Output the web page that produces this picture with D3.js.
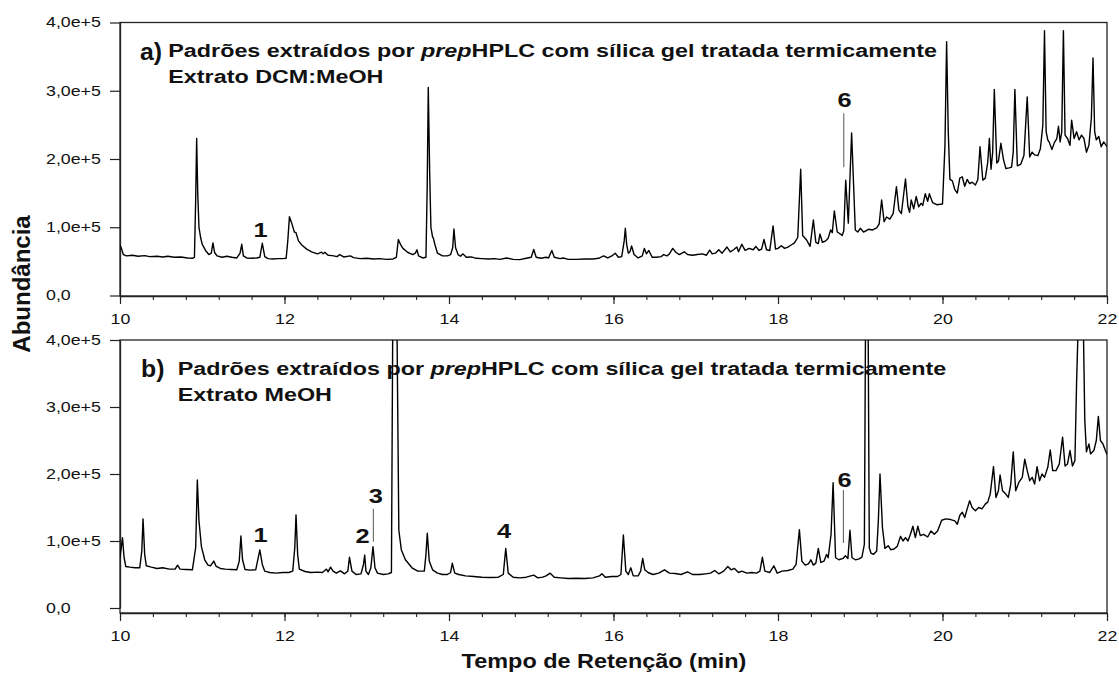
<!DOCTYPE html>
<html>
  <head>
    <meta charset="utf-8" />
    <title>Cromatogramas a) e b)</title>
    <script src="https://d3js.org/d3.v7.min.js"></script>
    <style>
      body { margin: 0; background: #fff; }
      text { font-family: "Liberation Sans", Arial, Helvetica, sans-serif; fill: #111; }
    </style>
  </head>
  <body>
    <svg id="chart" width="1119" height="673"></svg>

    <script>
      // ---- data (abundance in units of 1e+5) ----

      var xTickValues = [10, 12, 14, 16, 18, 20, 22];
      var xTickLabels = ["10", "12", "14", "16", "18", "20", "22"];
      var yTickValues = [0, 1, 2, 3, 4];
      var yTickLabels = ["0,0", "1,0e+5", "2,0e+5", "3,0e+5", "4,0e+5"];

      // panel a) extrato DCM:MeOH  [tempo (min), abundancia]
      var traceA = [
        [10.00,0.74],[10.02,0.68],[10.04,0.60],[10.08,0.58],[10.15,0.59],[10.22,0.575],[10.30,0.585],
        [10.36,0.57],[10.45,0.575],[10.52,0.565],[10.58,0.575],[10.66,0.56],[10.74,0.565],[10.82,0.55],
        [10.88,0.545],[10.905,0.56],[10.92,1.40],[10.932,2.30],[10.945,1.50],[10.96,1.00],[10.98,0.85],
        [11.00,0.75],[11.04,0.66],[11.08,0.60],[11.11,0.62],[11.13,0.77],[11.15,0.63],[11.18,0.58],
        [11.24,0.56],[11.30,0.575],[11.36,0.56],[11.42,0.55],[11.46,0.62],[11.48,0.75],[11.50,0.58],
        [11.54,0.55],[11.60,0.545],[11.66,0.55],[11.70,0.56],[11.73,0.765],[11.76,0.57],[11.80,0.54],
        [11.86,0.535],[11.92,0.54],[11.98,0.54],[12.02,0.545],[12.04,0.80],[12.06,1.155],[12.09,1.05],
        [12.12,0.93],[12.14,0.92],[12.17,0.80],[12.21,0.74],[12.27,0.68],[12.33,0.64],[12.40,0.61],
        [12.45,0.635],[12.47,0.61],[12.49,0.635],[12.53,0.59],[12.58,0.585],[12.64,0.57],[12.67,0.60],
        [12.72,0.565],[12.80,0.58],[12.84,0.555],[12.92,0.54],[13.00,0.545],[13.08,0.535],[13.16,0.54],
        [13.24,0.53],[13.32,0.535],[13.36,0.56],[13.384,0.82],[13.41,0.75],[13.44,0.69],[13.50,0.63],
        [13.56,0.60],[13.59,0.62],[13.61,0.67],[13.63,0.58],[13.68,0.55],[13.72,0.56],[13.735,1.60],
        [13.748,3.05],[13.765,1.80],[13.78,1.00],[13.80,0.86],[13.81,0.84],[13.83,0.74],[13.86,0.62],
        [13.92,0.58],[13.98,0.58],[14.02,0.60],[14.045,0.70],[14.06,0.975],[14.08,0.70],[14.11,0.60],
        [14.14,0.575],[14.17,0.61],[14.21,0.56],[14.27,0.565],[14.33,0.545],[14.40,0.54],[14.48,0.535],
        [14.55,0.54],[14.62,0.53],[14.70,0.55],[14.78,0.53],[14.86,0.525],[14.94,0.545],[15.00,0.56],
        [15.03,0.675],[15.06,0.56],[15.12,0.545],[15.18,0.56],[15.21,0.55],[15.25,0.66],[15.28,0.56],
        [15.35,0.54],[15.39,0.55],[15.45,0.53],[15.55,0.53],[15.65,0.535],[15.75,0.535],[15.82,0.545],
        [15.88,0.58],[15.93,0.55],[15.98,0.58],[16.02,0.62],[16.06,0.56],[16.10,0.57],[16.13,0.80],
        [16.144,0.985],[16.16,0.75],[16.18,0.62],[16.20,0.64],[16.22,0.725],[16.25,0.60],[16.30,0.55],
        [16.35,0.58],[16.375,0.69],[16.40,0.61],[16.43,0.66],[16.47,0.56],[16.52,0.56],[16.58,0.57],
        [16.61,0.60],[16.65,0.58],[16.68,0.61],[16.72,0.69],[16.76,0.63],[16.80,0.60],[16.86,0.64],
        [16.90,0.60],[16.96,0.59],[17.02,0.60],[17.08,0.61],[17.13,0.59],[17.17,0.665],[17.20,0.61],
        [17.24,0.62],[17.28,0.67],[17.32,0.62],[17.38,0.71],[17.42,0.64],[17.46,0.67],[17.50,0.71],
        [17.52,0.64],[17.56,0.75],[17.60,0.66],[17.65,0.69],[17.70,0.67],[17.73,0.72],[17.77,0.66],
        [17.80,0.68],[17.83,0.82],[17.86,0.67],[17.90,0.66],[17.94,1.02],[17.97,0.68],[18.00,0.69],
        [18.04,0.73],[18.08,0.69],[18.12,0.71],[18.16,0.74],[18.20,0.77],[18.24,0.85],[18.276,1.85],
        [18.30,0.88],[18.35,0.81],[18.39,0.72],[18.43,1.106],[18.46,0.78],[18.49,0.76],[18.51,0.90],
        [18.54,0.78],[18.58,0.80],[18.61,0.84],[18.64,0.96],[18.66,0.92],[18.685,1.24],[18.72,0.93],
        [18.76,0.90],[18.78,0.88],[18.80,0.95],[18.823,1.69],[18.855,1.06],[18.895,2.38],[18.94,0.96],
        [18.97,0.93],[19.00,0.985],[19.04,0.93],[19.10,0.97],[19.15,0.96],[19.20,0.99],[19.23,1.05],
        [19.26,1.40],[19.29,1.08],[19.32,1.15],[19.36,1.12],[19.40,1.20],[19.44,1.594],[19.47,1.25],
        [19.50,1.20],[19.55,1.707],[19.58,1.30],[19.60,1.22],[19.62,1.40],[19.65,1.27],[19.68,1.45],
        [19.71,1.30],[19.74,1.35],[19.76,1.32],[19.79,1.49],[19.82,1.38],[19.84,1.49],[19.88,1.36],
        [19.93,1.33],[20.00,1.34],[20.03,2.20],[20.05,3.72],[20.07,2.40],[20.09,1.70],[20.12,1.68],
        [20.15,1.55],[20.18,1.50],[20.21,1.72],[20.24,1.74],[20.27,1.60],[20.30,1.70],[20.33,1.64],
        [20.36,1.66],[20.40,1.62],[20.43,1.70],[20.456,2.18],[20.49,1.69],[20.52,1.72],[20.55,1.95],
        [20.57,2.30],[20.59,1.85],[20.61,2.10],[20.63,3.02],[20.66,1.94],[20.68,1.97],[20.71,2.23],
        [20.74,2.00],[20.77,1.86],[20.81,1.87],[20.84,1.88],[20.86,2.10],[20.88,3.02],[20.91,1.90],
        [20.95,1.92],[20.99,2.05],[21.03,2.91],[21.06,2.03],[21.09,2.10],[21.12,2.06],[21.16,2.05],
        [21.19,2.15],[21.22,2.50],[21.24,3.88],[21.26,2.40],[21.28,2.28],[21.30,2.24],[21.33,2.14],
        [21.36,2.24],[21.39,2.30],[21.41,2.48],[21.43,2.25],[21.45,2.40],[21.47,3.88],[21.49,2.35],
        [21.52,2.30],[21.55,2.20],[21.57,2.57],[21.60,2.30],[21.63,2.40],[21.66,2.28],[21.69,2.35],
        [21.72,2.30],[21.75,2.10],[21.78,2.20],[21.81,2.60],[21.83,3.48],[21.85,2.40],[21.87,2.28],
        [21.90,2.33],[21.93,2.18],[21.96,2.25],[22.00,2.18]
      ];

      // panel b) extrato MeOH  [tempo (min), abundancia]
      var traceB = [
        [10.00,0.75],[10.015,0.90],[10.03,1.05],[10.05,0.75],[10.07,0.62],[10.12,0.61],[10.18,0.60],
        [10.24,0.60],[10.265,0.85],[10.28,1.33],[10.30,0.80],[10.32,0.63],[10.38,0.61],[10.45,0.59],
        [10.52,0.60],[10.60,0.58],[10.67,0.58],[10.70,0.64],[10.73,0.58],[10.80,0.575],[10.88,0.57],
        [10.92,0.90],[10.94,1.91],[10.96,1.30],[10.99,0.915],[11.03,0.72],[11.07,0.64],[11.10,0.63],
        [11.14,0.70],[11.17,0.62],[11.22,0.59],[11.28,0.58],[11.35,0.575],[11.42,0.57],[11.45,0.70],
        [11.47,1.075],[11.49,0.72],[11.52,0.575],[11.58,0.565],[11.65,0.57],[11.70,0.866],[11.73,0.65],
        [11.76,0.55],[11.82,0.53],[11.90,0.52],[11.98,0.53],[12.05,0.53],[12.10,0.55],[12.125,0.90],
        [12.14,1.39],[12.16,0.80],[12.18,0.58],[12.25,0.545],[12.32,0.53],[12.40,0.535],[12.46,0.53],
        [12.49,0.56],[12.51,0.58],[12.53,0.54],[12.56,0.61],[12.59,0.55],[12.63,0.52],[12.68,0.555],
        [12.73,0.51],[12.77,0.55],[12.79,0.757],[12.82,0.55],[12.87,0.50],[12.93,0.51],[12.96,0.65],
        [12.975,0.79],[12.99,0.55],[13.02,0.50],[13.05,0.60],[13.076,0.915],[13.10,0.60],[13.13,0.52],
        [13.20,0.50],[13.26,0.51],[13.30,0.53],[13.335,8.6],[13.39,1.16],[13.42,0.87],[13.47,0.72],
        [13.55,0.60],[13.62,0.55],[13.70,0.55],[13.72,0.80],[13.736,1.115],[13.76,0.70],[13.80,0.57],
        [13.86,0.52],[13.92,0.50],[13.98,0.50],[14.02,0.53],[14.04,0.67],[14.07,0.52],[14.12,0.50],
        [14.20,0.48],[14.30,0.47],[14.40,0.46],[14.50,0.455],[14.60,0.46],[14.66,0.50],[14.69,0.89],
        [14.72,0.52],[14.78,0.46],[14.86,0.45],[14.94,0.46],[15.03,0.49],[15.08,0.45],[15.14,0.46],
        [15.18,0.48],[15.23,0.52],[15.28,0.46],[15.36,0.45],[15.45,0.44],[15.55,0.445],[15.65,0.44],
        [15.75,0.45],[15.83,0.48],[15.86,0.51],[15.90,0.46],[15.98,0.47],[16.05,0.47],[16.09,0.50],
        [16.12,1.09],[16.15,0.55],[16.18,0.50],[16.21,0.60],[16.24,0.48],[16.30,0.48],[16.33,0.55],
        [16.355,0.74],[16.38,0.57],[16.42,0.53],[16.48,0.50],[16.55,0.52],[16.62,0.57],[16.68,0.52],
        [16.75,0.515],[16.82,0.50],[16.90,0.54],[16.96,0.50],[17.05,0.50],[17.12,0.51],[17.18,0.52],
        [17.23,0.56],[17.28,0.51],[17.34,0.55],[17.39,0.62],[17.43,0.57],[17.47,0.59],[17.52,0.53],
        [17.56,0.55],[17.62,0.52],[17.68,0.53],[17.74,0.52],[17.78,0.55],[17.81,0.757],[17.84,0.55],
        [17.90,0.53],[17.95,0.63],[17.99,0.52],[18.05,0.55],[18.12,0.56],[18.18,0.58],[18.22,0.65],
        [18.26,1.17],[18.29,0.70],[18.33,0.64],[18.37,0.66],[18.40,0.72],[18.43,0.64],[18.46,0.67],
        [18.49,0.89],[18.52,0.68],[18.56,0.70],[18.59,0.80],[18.61,0.75],[18.645,1.10],[18.67,1.87],
        [18.70,0.75],[18.74,0.72],[18.79,0.74],[18.82,0.78],[18.85,0.74],[18.875,1.16],[18.90,0.75],
        [18.94,0.72],[18.98,0.73],[19.02,0.76],[19.05,0.95],[19.08,8.0],[19.11,0.90],[19.13,0.82],
        [19.16,0.80],[19.20,0.85],[19.22,1.30],[19.24,2.00],[19.27,1.20],[19.30,0.89],[19.34,0.93],
        [19.37,0.87],[19.41,0.88],[19.45,0.92],[19.49,1.07],[19.52,1.00],[19.55,1.05],[19.58,1.00],
        [19.61,1.10],[19.64,1.22],[19.67,1.05],[19.70,1.22],[19.73,1.08],[19.77,1.10],[19.82,1.06],
        [19.86,1.15],[19.90,1.10],[19.94,1.15],[19.99,1.31],[20.04,1.33],[20.10,1.32],[20.15,1.30],
        [20.18,1.25],[20.21,1.38],[20.24,1.43],[20.27,1.35],[20.30,1.48],[20.33,1.60],[20.36,1.50],
        [20.40,1.45],[20.44,1.50],[20.48,1.48],[20.52,1.55],[20.55,1.58],[20.58,1.70],[20.62,2.11],
        [20.65,1.65],[20.68,1.75],[20.70,1.985],[20.73,1.75],[20.77,1.70],[20.80,1.65],[20.83,1.85],
        [20.86,2.33],[20.89,1.75],[20.93,1.88],[20.97,1.95],[21.00,2.22],[21.03,2.05],[21.06,1.90],
        [21.09,1.95],[21.12,1.85],[21.15,2.11],[21.18,1.90],[21.21,2.00],[21.24,1.95],[21.28,2.10],
        [21.31,2.36],[21.34,2.05],[21.38,2.05],[21.42,2.15],[21.46,2.55],[21.49,2.12],[21.52,2.15],
        [21.55,2.35],[21.58,2.12],[21.61,2.20],[21.63,3.35],[21.69,6.0],[21.73,2.80],[21.75,2.33],
        [21.78,2.45],[21.80,2.30],[21.84,2.35],[21.87,2.50],[21.895,2.86],[21.92,2.50],[21.95,2.45],
        [21.98,2.35],[22.00,2.29]
      ];

      // numbered peaks: label, time of label, baseline height of label, optional marker line
      var peaksA = [
        { label: "1", t: 11.71, v: 0.86 },
        { label: "6", t: 18.81, v: 2.76, lineT: 18.80, lineFrom: 2.67, lineTo: 1.88 }
      ];
      var peaksB = [
        { label: "1", t: 11.71, v: 0.99 },
        { label: "2", t: 12.95, v: 0.97 },
        { label: "3", t: 13.11, v: 1.57, lineT: 13.08, lineFrom: 1.48, lineTo: 0.99 },
        { label: "4", t: 14.67, v: 1.045 },
        { label: "6", t: 18.81, v: 1.81, lineT: 18.795, lineFrom: 1.76, lineTo: 0.97 }
      ];

      var titleLine1 = ["Padrões extraídos por ", "prep", "HPLC com sílica gel tratada termicamente"];
      var titleLine2A = "Extrato DCM:MeOH";
      var titleLine2B = "Extrato MeOH";

      // ---- layout ----
      var svg = d3.select("#chart");
      var X0 = 120, X1 = 1107;
      var SX = 1.27;   // the original figure is stretched sideways

      var x = d3.scaleLinear().domain([10, 22]).range([X0, X1]);

      function minorTicks() {
        var out = [];
        for (var i = 0; i <= 30; i++) out.push(10 + i * 0.4);
        return out;
      }

      function drawPanel(id, trace, peaks, top, zeroY, axisY, letter, line2, letterX, textX) {
        var y = d3.scaleLinear().domain([0, 4]).range([zeroY, top]);
        var g = svg.append("g").attr("id", "panel-" + id);

        g.append("clipPath").attr("id", "clip-" + id)
          .append("rect")
          .attr("x", X0).attr("y", top)
          .attr("width", X1 - X0).attr("height", axisY - top);

        // frame
        g.append("rect")
          .attr("x", X0).attr("y", top)
          .attr("width", X1 - X0).attr("height", axisY - top)
          .attr("fill", "none").attr("stroke", "#222").attr("stroke-width", 1.3);

        // y axis
        var yAxis = g.append("g")
          .attr("transform", "translate(" + X0 + ",0)")
          .call(d3.axisLeft(y).tickValues(yTickValues).tickSize(10).tickSizeOuter(0)
            .tickFormat(function(d, i) { return yTickLabels[i]; }));
        yAxis.select(".domain").attr("stroke", "#222").attr("stroke-width", 1.3);
        yAxis.selectAll(".tick line").attr("stroke", "#222").attr("stroke-width", 1.2);
        yAxis.selectAll(".tick text")
          .attr("x", 0)
          .attr("text-anchor", "start")
          .attr("font-size", 14)
          .attr("fill", "#111")
          .attr("transform", "translate(" + (46 - X0) + ",0) scale(" + SX + ",1)");

        // x axis, minor then major
        var xMinor = g.append("g")
          .attr("transform", "translate(0," + axisY + ")")
          .call(d3.axisBottom(x).tickValues(minorTicks()).tickSize(4).tickSizeOuter(0).tickFormat(""));
        xMinor.select(".domain").remove();
        xMinor.selectAll(".tick line").attr("stroke", "#222").attr("stroke-width", 1.1);

        var xAxis = g.append("g")
          .attr("transform", "translate(0," + axisY + ")")
          .call(d3.axisBottom(x).tickValues(xTickValues).tickSize(8).tickSizeOuter(0)
            .tickFormat(function(d, i) { return xTickLabels[i]; }));
        xAxis.select(".domain").attr("stroke", "#222").attr("stroke-width", 1.3);
        xAxis.selectAll(".tick line").attr("stroke", "#222").attr("stroke-width", 1.2);
        xAxis.selectAll(".tick text")
          .attr("y", 28).attr("dy", null)
          .attr("font-size", 14)
          .attr("fill", "#111")
          .attr("transform", "scale(" + SX + ",1)");

        // chromatogram trace
        var line = d3.line()
          .x(function(d) { return x(d[0]); })
          .y(function(d) { return y(d[1]); });

        g.append("path")
          .datum(trace)
          .attr("clip-path", "url(#clip-" + id + ")")
          .attr("fill", "none")
          .attr("stroke", "#000")
          .attr("stroke-width", 1.4)
          .attr("stroke-linejoin", "round")
          .attr("d", line);

        // numbered peaks
        peaks.forEach(function(p) {
          if (p.lineT !== undefined) {
            g.append("line")
              .attr("x1", x(p.lineT)).attr("x2", x(p.lineT))
              .attr("y1", y(p.lineFrom)).attr("y2", y(p.lineTo))
              .attr("stroke", "#555").attr("stroke-width", 1);
          }
          g.append("text")
            .attr("text-anchor", "middle")
            .attr("font-weight", "bold")
            .attr("font-size", 20)
            .attr("transform", "translate(" + x(p.t) + "," + y(p.v) + ") scale(" + SX + ",1)")
            .text(p.label);
        });

        // panel titles
        g.append("text")
          .attr("font-weight", "bold")
          .attr("font-size", 23)
          .attr("transform", "translate(" + letterX + "," + (top + 37) + ") scale(1.08,1)")
          .text(letter);

        var t1 = g.append("text")
          .attr("font-weight", "bold")
          .attr("font-size", 18);
        t1.append("tspan").text(titleLine1[0]);
        t1.append("tspan").attr("font-style", "italic").text(titleLine1[1]);
        t1.append("tspan").text(titleLine1[2]);
        var s = 769 / t1.node().getComputedTextLength();
        t1.attr("transform", "translate(" + textX + "," + (top + 34.8) + ") scale(" + s + ",1)");

        g.append("text")
          .attr("font-weight", "bold")
          .attr("font-size", 18)
          .attr("transform", "translate(" + textX + "," + (top + 60.5) + ") scale(" + s + ",1)")
          .text(line2);
      }

      drawPanel("a", traceA, peaksA, 22.5, 295.5, 296, "a)", titleLine2A, 140, 168.3);
      drawPanel("b", traceB, peaksB, 340, 608, 613, "b)", titleLine2B, 141, 177.7);

      // axis titles
      var xTitle = svg.append("text")
        .attr("text-anchor", "middle")
        .attr("font-weight", "bold")
        .attr("font-size", 20)
        .text("Tempo de Retenção (min)");
      var sx2 = 285 / xTitle.node().getComputedTextLength();
      xTitle.attr("transform", "translate(604,668) scale(" + sx2 + ",1)");

      svg.append("text")
        .attr("text-anchor", "middle")
        .attr("font-weight", "bold")
        .attr("font-size", 24)
        .attr("transform", "translate(30,284) rotate(-90)")
        .text("Abundância");
    </script>
  </body>
</html>
